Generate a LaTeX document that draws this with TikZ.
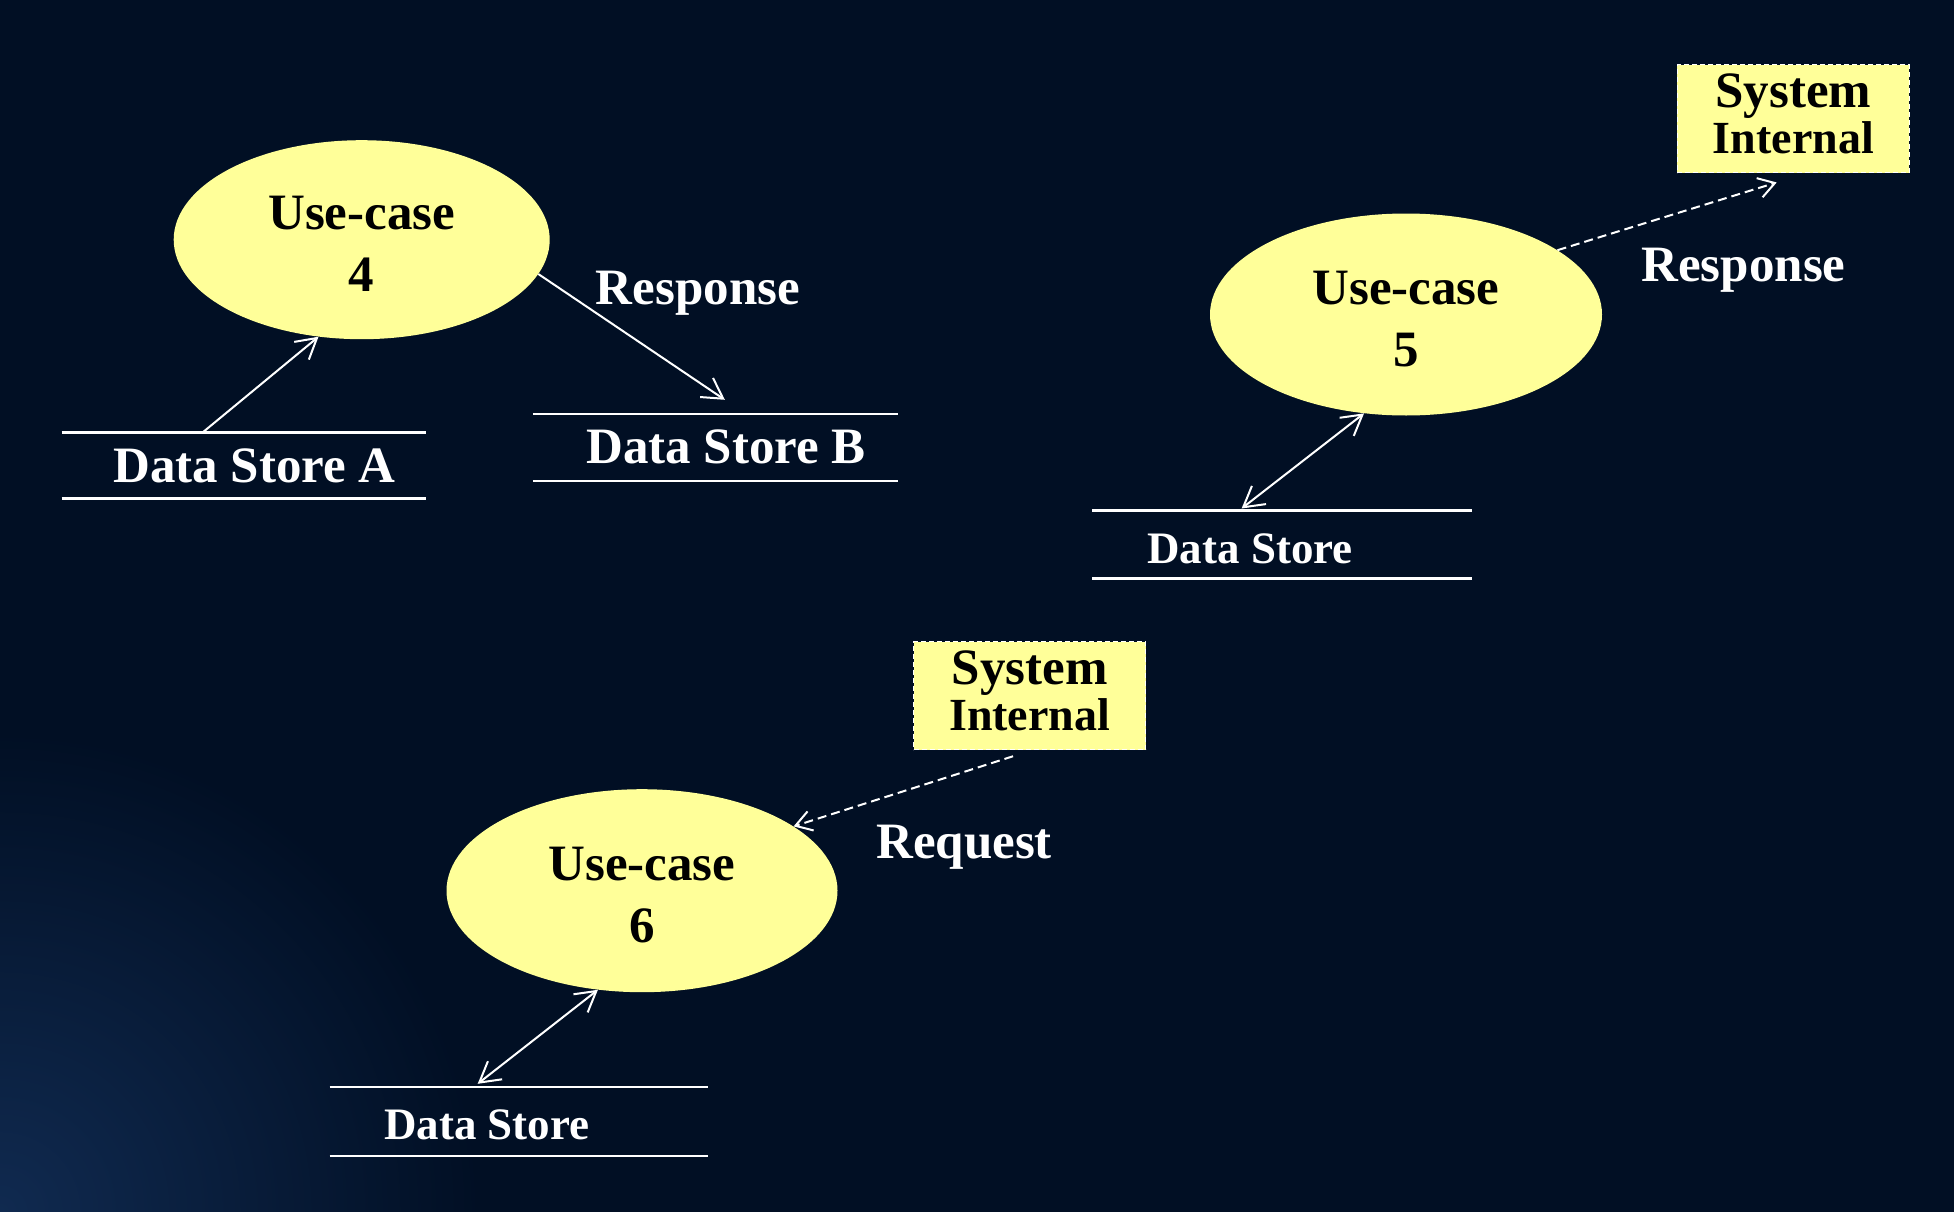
\documentclass[tikz,border=0pt]{standalone}
\usepackage{fontspec}
\setmainfont{Liberation Serif}
\usetikzlibrary{shapes.geometric,arrows.meta}
\definecolor{bg}{RGB}{1,15,36}
\definecolor{glow}{RGB}{16,42,80}
\definecolor{ucyellow}{RGB}{255,255,153}
\begin{document}
\begin{tikzpicture}[x=1pt,y=-1pt,
  >={Straight Barb[length=20pt,width=23pt]},
  usecase/.style={ellipse, fill=ucyellow, inner sep=0pt, align=center, text=black,
    font={\bfseries\fontsize{51}{62}\selectfont}},
  sysbox/.style={rectangle, fill=ucyellow, draw=white, line width=1.5pt,
    dash pattern=on 5pt off 3pt, minimum width=232pt, minimum height=108pt,
    inner sep=0pt, align=center, text=black,
    font={\bfseries\fontsize{51}{45.7}\selectfont\lineskiplimit=-100pt}},
  store/.style={rectangle, inner sep=0pt},
  storeline/.style={draw=white, line width=2.5pt},
  storetext/.style={text=white, inner sep=0pt, font={\bfseries\fontsize{51}{60}\selectfont}},
  storetextsmall/.style={text=white, inner sep=0pt, font={\bfseries\fontsize{45}{54}\selectfont}},
  flowtext/.style={text=white, inner sep=0pt, font={\bfseries\fontsize{51}{60}\selectfont}},
  flow/.style={draw=white, line width=2pt},
  dflow/.style={draw=white, line width=2pt, dash pattern=on 9pt off 5pt,
    -{Straight Barb[length=16pt,width=20pt]}}
]
\useasboundingbox (0,0) rectangle (1954,1212);
\fill[bg] (0,0) rectangle (1954,1212);
\begin{scope}
  \clip (0,0) rectangle (1954,1212);
  \shade[inner color=glow, outer color=bg] (0,1212) circle (480);
\end{scope}

% use-cases
\node[usecase, minimum width=376pt, minimum height=199pt] (uc4) at (361.7,239.7) {\rule{0pt}{42pt}Use-case\\4};
\node[usecase, minimum width=392pt, minimum height=202pt] (uc5) at (1406,314.5) {\rule{0pt}{42pt}Use-case\\5};
\node[usecase, minimum width=391pt, minimum height=203pt] (uc6) at (642,890.7) {\rule{0pt}{42pt}Use-case\\6};

% system internal boxes
\node[sysbox] (si1) at (1793.3,118.7) {System\\{\fontsize{46}{45.7}\selectfont Internal}\rule[-10pt]{0pt}{10pt}};
\node[sysbox] (si2) at (1029.6,695.5) {System\\{\fontsize{46}{45.7}\selectfont Internal}\rule[-10pt]{0pt}{10pt}};

% data stores
\node[store, minimum width=363.5pt, minimum height=66pt,
  label={[name=dsAt, storetext, xshift=11pt]center:Data Store A}] (dsA) at (243.55,465.5) {};
\node[store, minimum width=364.3pt, minimum height=66.7pt,
  label={[name=dsBt, storetext, xshift=11pt]center:Data Store B}] (dsB) at (715.2,447.35) {};
\node[store, minimum width=379.4pt, minimum height=67.5pt,
  label={[name=ds5t, storetextsmall, xshift=-32pt, yshift=-4pt]center:Data Store}] (ds5) at (1282,544.45) {};
\node[store, minimum width=377.7pt, minimum height=68.7pt,
  label={[name=ds6t, storetextsmall, xshift=-32pt, yshift=-3pt]center:Data Store}] (ds6) at (518.75,1121.35) {};
\foreach \d in {dsA,dsB,ds5,ds6}{
  \draw[storeline] (\d.north west) -- (\d.north east) (\d.south west) -- (\d.south east);
}

% flow labels
\node[flowtext, anchor=base] (resp4) at (698,304.2) {Response};
\node[flowtext, anchor=base] (resp5) at (1743.5,281.3) {Response};
\node[flowtext, anchor=base] (req6) at (964,858.9) {Request};

% connectors
\draw[flow, ->] ([xshift=141.2pt]dsA.north west) -- (uc4.246.9);
\draw[flow, ->] (uc4.349.6) -- ([xshift=192pt,yshift=14pt]dsB.north west);
\draw[dflow] (uc5.23.5) -- ([xshift=-16.6pt,yshift=-9pt]si1.south);
\draw[flow, <->] ([xshift=149.5pt,yshift=2pt]ds5.north west) -- (uc5.247.5);
\draw[dflow] ([xshift=-16.6pt,yshift=-6pt]si2.south) -- (uc6.23.5);
\draw[flow, <->] ([xshift=148pt,yshift=3pt]ds6.north west) -- (uc6.246.6);
\end{tikzpicture}
\end{document}
